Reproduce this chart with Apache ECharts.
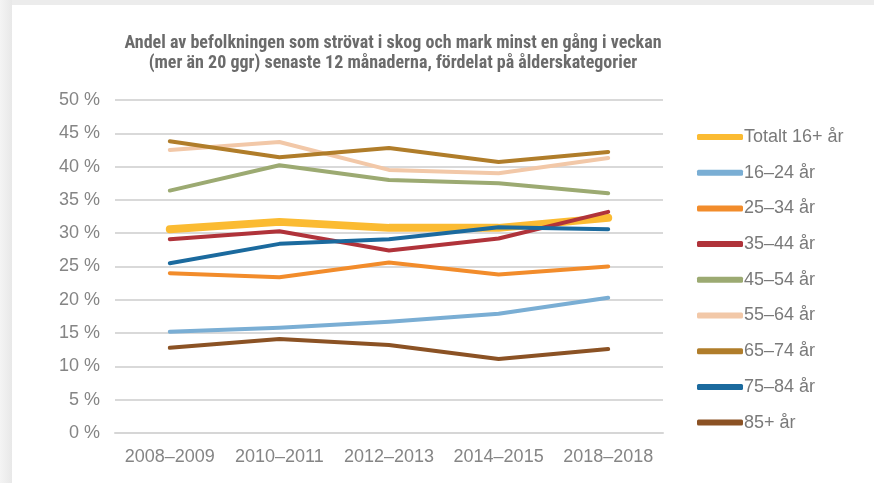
<!DOCTYPE html>
<html>
<head>
<meta charset="utf-8">
<script src="https://cdn.jsdelivr.net/npm/echarts@6/dist/echarts.min.js"></script>
<style>
html,body{margin:0;padding:0;background:#fff;}
#c{width:874px;height:483px;}
</style>
</head>
<body>
<div id="c"></div>
<script>
const categories = ['2008–2009', '2010–2011', '2012–2013', '2014–2015', '2018–2018'];
const yTicks = [0, 5, 10, 15, 20, 25, 30, 35, 40, 45, 50];
const seriesNames = ['Totalt 16+ år', '16–24 år', '25–34 år', '35–44 år', '45–54 år', '55–64 år', '65–74 år', '75–84 år', '85+ år'];
const totalt = [30.6, 31.7, 30.8, 30.8, 32.3];
const age16_24 = [15.2, 15.8, 16.7, 17.9, 20.3];
const age25_34 = [24.0, 23.4, 25.6, 23.8, 25.0];
const age35_44 = [29.1, 30.3, 27.4, 29.2, 33.2];
const age45_54 = [36.4, 40.2, 38.0, 37.5, 36.0];
const age55_64 = [42.5, 43.7, 39.5, 39.0, 41.3];
const age65_74 = [43.8, 41.4, 42.8, 40.7, 42.2];
const age75_84 = [25.5, 28.4, 29.1, 30.9, 30.6];
const age85plus = [12.8, 14.1, 13.2, 11.1, 12.6];

const seriesData = [totalt, age16_24, age25_34, age35_44, age45_54, age55_64, age65_74, age75_84, age85plus];
const colors = ['#fbbb32', '#7aaed4', '#f28c2b', '#b0333a', '#9caa72', '#f2c8a8', '#b07d2a', '#1b6a9e', '#8b5224'];
const widths = [8, 4, 4, 4, 4, 4, 4, 4, 4];

const chart = echarts.init(document.getElementById('c'));
chart.setOption({
  backgroundColor: '#ffffff',
  animation: false,
  title: {
    text: 'Andel av befolkningen som strövat i skog och mark minst en gång i veckan\n(mer än 20 ggr) senaste 12 månaderna, fördelat på ålderskategorier',
    left: 388,
    textAlign: 'center',
    top: 28,
    textStyle: {
      fontFamily: '"Liberation Sans Narrow", "Roboto Condensed", "Liberation Sans", sans-serif',
      fontWeight: 'bold',
      fontSize: 18,
      lineHeight: 20,
      color: '#6b6b6b'
    }
  },
  graphic: [
    { type: 'rect', shape: { x: 0, y: 0, width: 874, height: 5 }, style: { fill: '#ececec' }, silent: true },
    { type: 'rect', shape: { x: 0, y: 0, width: 12, height: 483 },
      style: { fill: new echarts.graphic.LinearGradient(0, 0, 1, 0, [{ offset: 0, color: '#f4f4f4' }, { offset: 1, color: '#e8e8e8' }]) }, silent: true }
  ],
  grid: { left: 115, right: 211, top: 100, bottom: 50 },
  legend: {
    orient: 'vertical',
    left: 692,
    top: 123,
    itemWidth: 46,
    itemHeight: 6,
    itemGap: 17.7,
    icon: 'roundRect',
    data: seriesNames.map((n, i) => ({ name: n, itemStyle: { color: colors[i] } })),
    textStyle: { fontFamily: '"Liberation Sans", Arial, sans-serif', fontSize: 18, lineHeight: 18, color: '#7a7a7a', padding: [0, 0, 0, -4] }
  },
  xAxis: {
    type: 'category',
    data: categories,
    boundaryGap: true,
    axisLine: { show: true, lineStyle: { color: '#d6d6d6', width: 2 } },
    axisTick: { show: false },
    axisLabel: { interval: 0, hideOverlap: false, fontFamily: '"Liberation Sans", Arial, sans-serif', fontSize: 18, color: '#858585', margin: 15 }
  },
  yAxis: {
    type: 'value',
    min: 0, max: 50, interval: 5,
    axisLine: { show: false },
    axisTick: { show: false },
    splitLine: { lineStyle: { color: '#d9d9d9', width: 2 } },
    axisLabel: {
      fontFamily: '"Liberation Sans", Arial, sans-serif', fontSize: 18, color: '#858585', margin: 15,
      formatter: v => yTicks.includes(v) ? v + ' %' : ''
    }
  },
  series: seriesNames.map((n, i) => ({
    name: n,
    type: 'line',
    data: seriesData[i],
    symbol: 'none',
    color: colors[i],
    lineStyle: { color: colors[i], width: widths[i], cap: 'round', join: 'round' },
    z: 2 + i
  }))
});
</script>
</body>
</html>
